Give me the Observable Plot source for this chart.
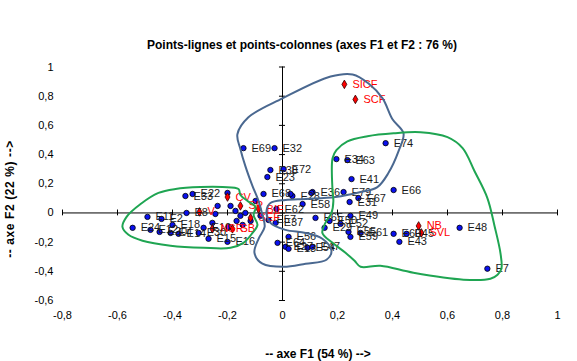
<!DOCTYPE html>
<html><head><meta charset="utf-8">
<script src="https://cdn.jsdelivr.net/npm/d3@7"></script>
<script src="https://cdn.jsdelivr.net/npm/@observablehq/plot@0.6"></script>
<style>
body{margin:0;background:#fff;font-family:Arial,"Liberation Sans",sans-serif}
#wrap{position:relative;width:577px;height:361px;overflow:hidden}
#title{position:absolute;top:38px;left:0;width:604px;text-align:center;font-weight:bold;font-size:12px;color:#000}
#chart{position:absolute;top:0;left:0}
.axt{position:absolute;font-weight:bold;font-size:12px;color:#000;white-space:nowrap;line-height:14px}
#xt{left:218px;top:347px;width:200px;text-align:center}
#yt{left:-90px;top:192px;width:200px;text-align:center;transform:rotate(-90deg);letter-spacing:0.6px}
</style></head>
<body>
<div id="wrap"><div id="chart"></div>
<div id="title">Points-lignes et points-colonnes (axes F1 et F2 : 76 %)</div>
<div id="xt" class="axt"></div><div id="yt" class="axt"></div>
</div>
<script>
// Row points (blue)
const rowLabels = ["E69","E32","E38","E72","E23","E34","E63","E41","E74","E66","E79","E67","E31","E36","","E28","","E68","E58","E65","E49","E50","E52","E29","E55","E59","E61","E60","E45","E43","E48","E7","E37","E56","E64","E27","E13","E54","E47",
 "E33","E22","E11","E2","E24","E12","E20","E18","E4","E14","E8","E10","E30","E15","E16","","","","","","","","","","","","","","E62","E57",""];
const rowX = [-0.142,-0.029,-0.044,0.004,-0.055,0.196,0.236,0.251,0.375,0.404,0.222,0.276,0.244,0.109,0.105,0.036,0.029,-0.069,0.073,0.120,0.247,0.171,0.211,0.153,0.240,0.247,0.284,0.404,0.451,0.425,0.644,0.745,-0.025,0.022,-0.018,0.011,0.022,0.091,0.109,
 -0.353,-0.327,-0.491,-0.440,-0.545,-0.480,-0.447,-0.400,-0.407,-0.378,-0.349,-0.287,-0.305,-0.269,-0.200,-0.255,-0.244,-0.236,-0.189,-0.171,-0.153,-0.167,-0.135,-0.116,-0.196,-0.145,-0.098,-0.080,-0.022,-0.051,-0.200];
const rowY = [0.444,0.444,0.294,0.300,0.246,0.369,0.362,0.232,0.478,0.157,0.143,0.102,0.075,0.143,0.137,0.116,0.130,0.130,0.061,-0.034,-0.020,-0.055,-0.075,-0.102,-0.130,-0.164,-0.137,-0.143,-0.143,-0.198,-0.102,-0.382,-0.068,-0.164,-0.205,-0.232,-0.246,-0.239,-0.232,
 0.116,0.130,-0.027,-0.041,-0.102,-0.116,-0.130,-0.082,-0.137,-0.143,0.000,-0.102,-0.137,-0.177,-0.198,-0.068,-0.007,0.048,0.048,0.014,-0.020,-0.055,0.000,-0.055,-0.096,-0.082,0.082,-0.020,0.027,-0.048,0.137];

// Column points (red)
const colLabels = ["SICF","SCF","NB","SVL","CV","V","BIF","NSR","SB","SEF","SP"];
const colX = [0.225,0.265,0.495,0.505,-0.200,-0.302,-0.087,-0.255,-0.182,-0.116,-0.153];
const colY = [0.881,0.778,-0.089,-0.137,0.109,0.007,0.027,-0.109,-0.109,-0.034,0.048];

// Hand-drawn group outlines
const blueOutlineX = [-0.164,-0.124,0.000,0.175,0.255,0.313,0.364,0.400,0.440,0.422,0.385,0.345,0.284,0.193,0.084,0.011,-0.044,-0.058,-0.044,0.011,0.084,0.145,0.178,0.160,0.084,0.004,-0.073,-0.102,-0.087,-0.065,-0.073,-0.087,-0.109,-0.135,-0.153];
const blueOutlineY = [0.539,0.655,0.785,0.935,0.949,0.887,0.785,0.642,0.546,0.423,0.273,0.177,0.143,0.109,0.096,0.089,0.068,0.014,-0.068,-0.116,-0.137,-0.177,-0.259,-0.321,-0.348,-0.369,-0.348,-0.273,-0.177,-0.096,-0.014,0.082,0.184,0.321,0.437];
const greenRightX = [0.182,0.182,0.196,0.236,0.309,0.404,0.502,0.600,0.655,0.698,0.745,0.771,0.793,0.796,0.782,0.756,0.658,0.476,0.356,0.284,0.262,0.229,0.182,0.145,0.156,0.178,0.185];
const greenRightY = [0.150,0.375,0.430,0.491,0.526,0.546,0.553,0.519,0.444,0.287,0.102,-0.089,-0.280,-0.382,-0.423,-0.451,-0.457,-0.410,-0.362,-0.369,-0.328,-0.273,-0.205,-0.137,-0.068,0.000,0.082];
const greenLeftX = [-0.160,-0.218,-0.298,-0.389,-0.451,-0.516,-0.567,-0.582,-0.560,-0.509,-0.407,-0.287,-0.189,-0.142,-0.109,-0.091,-0.105,-0.098,-0.127,-0.153];
const greenLeftY = [0.164,0.177,0.177,0.164,0.137,0.061,-0.027,-0.096,-0.150,-0.191,-0.225,-0.239,-0.239,-0.205,-0.137,-0.082,-0.014,0.041,0.082,0.123];

const xTicks = [-0.8,-0.6,-0.4,-0.2,0,0.2,0.4,0.6,0.8,1];
const yTicks = [-0.6,-0.4,-0.2,0,0.2,0.4,0.6,0.8,1];
const xTitle = "-- axe F1 (54 %) -->";
const yTitle = "-- axe F2 (22 %) -->";

const rows = rowLabels.map((t,i)=>({t, x:rowX[i], y:rowY[i]}));
const cols = colLabels.map((t,i)=>({t, x:colX[i], y:colY[i]}));
const pts = (xs,ys)=>xs.map((x,i)=>({x, y:ys[i]}));
const fmt = d => String(+d.toFixed(1)).replace(".", ",");

const chart = Plot.plot({
  width: 577, height: 361,
  marginLeft: 62, marginRight: 20, marginTop: 66.5, marginBottom: 61,
  x: {domain: [-0.8, 1]},
  y: {domain: [-0.6, 1]},
  style: {fontFamily: "Arial, 'Liberation Sans', sans-serif", fontSize: "10px", background: "white", color: "#000"},
  marks: [
    Plot.axisX({ticks: xTicks, tickSize: 0, tickPadding: 11, tickFormat: fmt, label: null, fontSize: 11}),
    Plot.axisY({ticks: yTicks, tickSize: 0, tickPadding: 9, tickFormat: fmt, label: null, fontSize: 11}),
    Plot.ruleY([0], {stroke: "#000", strokeWidth: 1}),
    Plot.ruleX([0], {stroke: "#000", strokeWidth: 1}),
    Plot.ruleX(xTicks, {x: d => d, y1: -0.02, y2: 0.02, stroke: "#000"}),
    Plot.ruleY(yTicks, {y: d => d, x1: -0.011, x2: 0.011, stroke: "#000"}),
    Plot.dot(rows, {x: "x", y: "y", r: 2.7, fill: "#0a10ee", stroke: "#000", strokeWidth: 0.8}),
    Plot.dot(cols, {x: "x", y: "y", symbol: "diamond", r: 2.6, fill: "#ff0000", stroke: "#300", strokeWidth: 0.8}),
    Plot.text(rows, {x: "x", y: "y", text: "t", textAnchor: "start", dx: 8, fill: "#1a1a1a", fontSize: 11}),
    Plot.text(cols, {x: "x", y: "y", text: "t", textAnchor: "start", dx: 8, fill: "#ff0000", fontSize: 11}),
    Plot.line(pts(blueOutlineX, blueOutlineY), {x: "x", y: "y", curve: "catmull-rom-closed", stroke: "#4a6890", strokeWidth: 2}),
    Plot.line(pts(greenRightX, greenRightY), {x: "x", y: "y", curve: "catmull-rom-closed", stroke: "#1fa552", strokeWidth: 2}),
    Plot.line(pts(greenLeftX, greenLeftY), {x: "x", y: "y", curve: "catmull-rom-closed", stroke: "#1fa552", strokeWidth: 2})
  ]
});
document.getElementById("chart").appendChild(chart);
document.getElementById("xt").textContent = xTitle;
document.getElementById("yt").textContent = yTitle;
</script>
</body></html>
